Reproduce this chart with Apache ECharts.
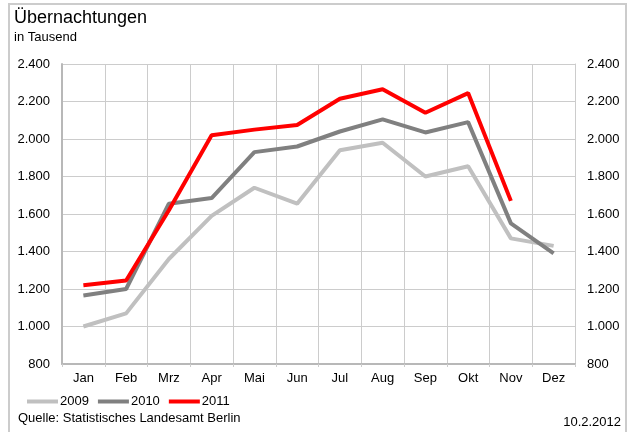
<!DOCTYPE html>
<html>
<head>
<meta charset="utf-8">
<script src="https://cdn.jsdelivr.net/npm/echarts@6/dist/echarts.min.js"></script>
<style>
  html, body { margin: 0; padding: 0; background: #fff; }
  #chart { width: 629px; height: 432px; }
</style>
</head>
<body>
<div id="chart"></div>
<script>
// Monate
const months = ["Jan", "Feb", "Mrz", "Apr", "Mai", "Jun", "Jul", "Aug", "Sep", "Okt", "Nov", "Dez"];

// Übernachtungen in Tausend
const values2009 = [1000, 1070, 1360, 1590, 1740, 1655, 1940, 1980, 1800, 1855, 1470, 1430];
const values2010 = [1165, 1200, 1655, 1685, 1930, 1960, 2040, 2105, 2035, 2090, 1550, 1390];
const values2011 = [1220, 1245, 1620, 2020, 2050, 2075, 2215, 2265, 2140, 2245, 1670, null];

const yMin = 800;
const yMax = 2400;
const yStep = 200;

const font = "Liberation Sans, Arial, sans-serif";

const fmt = v => {
  const s = String(v);
  return s.length > 3 ? s.slice(0, s.length - 3) + "." + s.slice(-3) : s;
};

const yAxisBase = {
  type: "value",
  min: yMin,
  max: yMax,
  interval: yStep,
  axisLabel: { formatter: fmt, color: "#000", fontSize: 13, fontFamily: font, margin: 12 },
  splitLine: { lineStyle: { color: "#cccccc", width: 1 } },
  axisTick: { show: false }
};

const chart = echarts.init(document.getElementById("chart"));

chart.setOption({
  animation: false,
  textStyle: { fontFamily: font },
  graphic: [
    {
      type: "rect",
      shape: { x: 9, y: 4, width: 617, height: 440 },
      style: { fill: "none", stroke: "#cccccc", lineWidth: 2 }
    },
    {
      type: "text",
      left: 14, top: 9,
      style: { text: "Übernachtungen", fontSize: 18, fontFamily: font, fill: "#000" }
    },
    {
      type: "text",
      left: 14, top: 31,
      style: { text: "in Tausend", fontSize: 13, fontFamily: font, fill: "#000" }
    },
    {
      type: "text",
      left: 18, top: 412,
      style: { text: "Quelle: Statistisches Landesamt Berlin", fontSize: 13, fontFamily: font, fill: "#000" }
    },
    {
      type: "text",
      right: 8, top: 416,
      style: { text: "10.2.2012", fontSize: 13, fontFamily: font, fill: "#000" }
    }
  ],
  grid: { left: 62, right: 54, top: 64, bottom: 68 },
  legend: {
    left: 27,
    top: 395,
    padding: 0,
    icon: "rect",
    itemWidth: 31,
    itemHeight: 4,
    itemGap: 9,
    textStyle: { fontSize: 13, fontFamily: font, color: "#000", padding: [0, 0, 0, -3] },
    data: ["2009", "2010", "2011"]
  },
  xAxis: {
    type: "category",
    data: months,
    boundaryGap: true,
    axisLine: { lineStyle: { color: "#b8b8b8", width: 2 } },
    axisTick: { show: true, length: 3, lineStyle: { color: "#cccccc" } },
    axisLabel: { color: "#000", fontSize: 13, fontFamily: font, margin: 8 },
    splitLine: { show: true, lineStyle: { color: "#cccccc", width: 1 } }
  },
  yAxis: [
    Object.assign({}, yAxisBase, {
      position: "left",
      axisLine: { show: true, lineStyle: { color: "#b8b8b8", width: 2 } }
    }),
    Object.assign({}, yAxisBase, {
      position: "right",
      splitLine: { show: false },
      axisLine: { show: true, lineStyle: { color: "#cccccc", width: 1 } }
    })
  ],
  series: [
    {
      name: "2009",
      type: "line",
      data: values2009,
      symbol: "none",
      color: "#c0c0c0",
      lineStyle: { width: 4, color: "#c0c0c0" }
    },
    {
      name: "2010",
      type: "line",
      data: values2010,
      symbol: "none",
      color: "#808080",
      lineStyle: { width: 4, color: "#808080" }
    },
    {
      name: "2011",
      type: "line",
      data: values2011,
      symbol: "none",
      color: "#ff0000",
      lineStyle: { width: 4, color: "#ff0000" }
    }
  ]
});
</script>
</body>
</html>
